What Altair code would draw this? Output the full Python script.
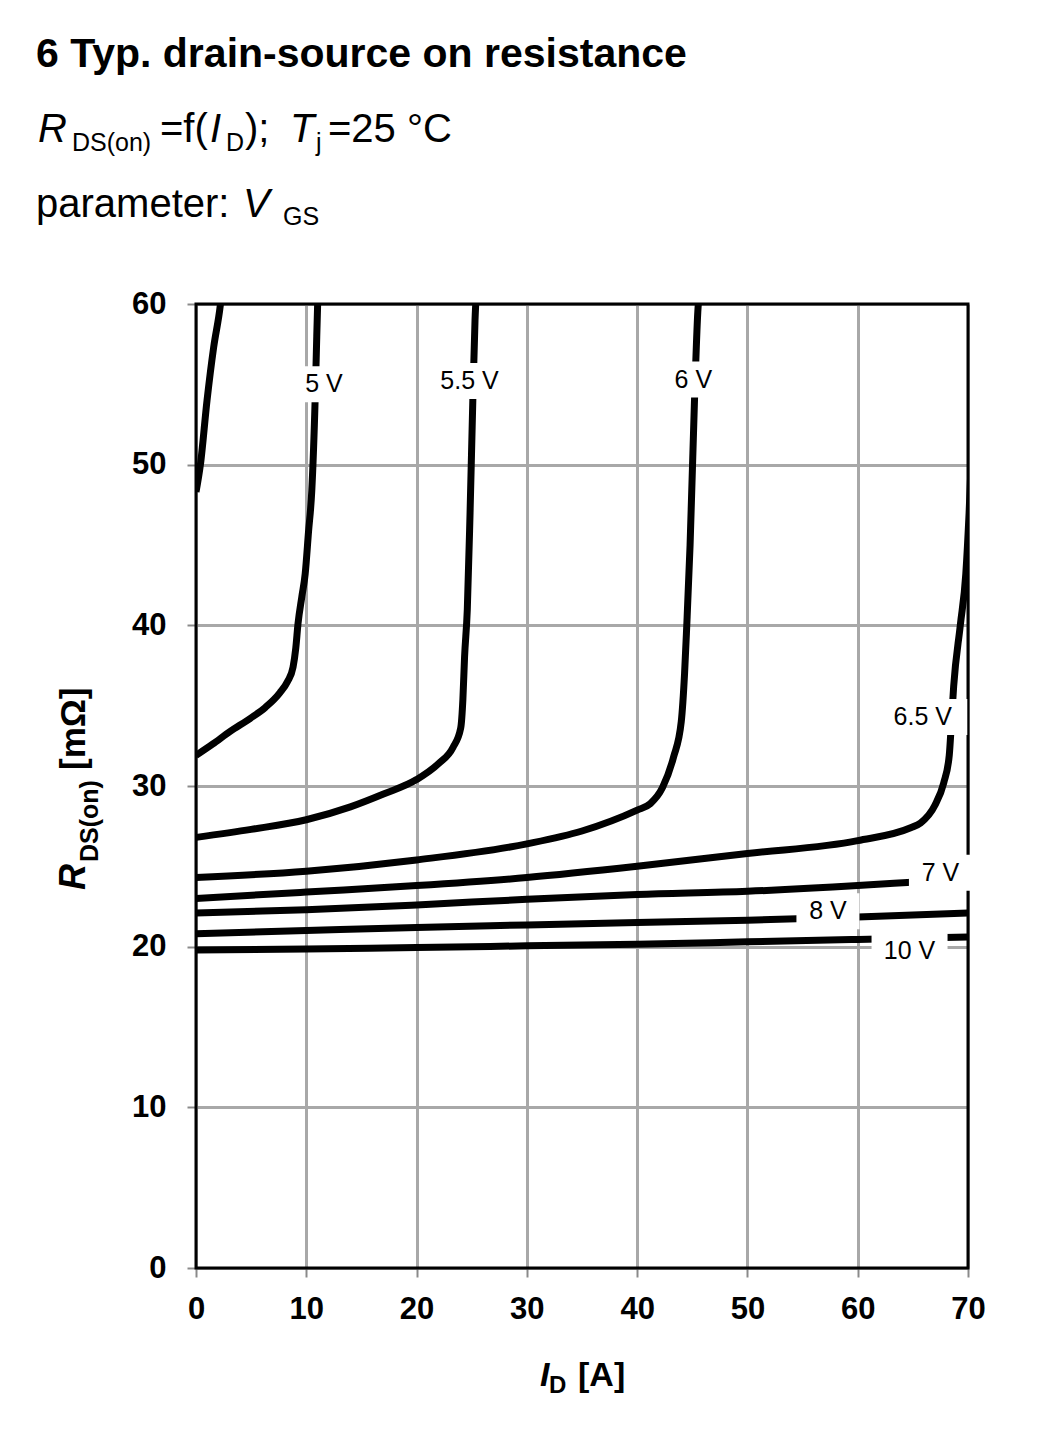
import altair as alt
import pandas as pd

# ---------------- data ----------------
# I_D [A] and R_DS(on) [mOhm] for each V_GS curve
id_c0 = [0.0, 0.4, 1.0, 1.6, 2.2, 2.3]
r_c0 = [48.3, 50.0, 54.0, 57.3, 59.9, 60.5]

id_5v = [0.0, 1.5, 3.1, 4.9, 6.3, 7.6, 8.3, 8.8, 9.05, 9.25, 9.6, 9.9, 10.2, 10.5, 10.8, 10.95, 11.05]
r_5v = [31.9, 32.6, 33.4, 34.2, 34.9, 35.8, 36.5, 37.4, 38.6, 40.1, 41.8, 43.2, 45.8, 48.4, 54.0, 58.0, 60.5]

id_55v = [0.0, 5.0, 10.0, 14.0, 17.0, 20.0, 22.0, 23.3, 24.0, 24.2, 24.35, 24.6, 24.85, 25.1, 25.3, 25.4]
r_55v = [26.8, 27.3, 27.9, 28.7, 29.5, 30.4, 31.4, 32.4, 33.6, 35.4, 38.0, 41.0, 47.0, 54.0, 59.0, 60.5]

id_6v = [0.0, 10.0, 20.0, 30.0, 35.0, 40.0, 41.2, 42.3, 43.3, 44.0, 44.3, 44.5, 44.8, 45.2, 45.5, 45.6]
r_6v = [24.3, 24.7, 25.4, 26.4, 27.2, 28.5, 28.9, 29.9, 31.8, 34.0, 37.0, 40.0, 45.0, 54.0, 59.5, 60.5]

id_65v = [0.0, 10.0, 20.0, 30.0, 40.0, 50.0, 60.0, 64.8, 65.7, 67.0, 67.8, 68.3, 68.5, 68.7, 69.3, 69.8, 70.1, 70.4]
r_65v = [23.0, 23.4, 23.8, 24.3, 25.0, 25.8, 26.6, 27.4, 27.7, 28.8, 30.2, 31.9, 34.0, 36.2, 40.0, 43.2, 47.0, 52.0]

id_7v = [0.0, 10.0, 20.0, 30.0, 40.0, 50.0, 60.0, 64.5, 70.0]
r_7v = [22.1, 22.3, 22.6, 22.95, 23.25, 23.45, 23.8, 24.0, 24.25]

id_8v = [0.0, 10.0, 20.0, 30.0, 40.0, 50.0, 60.0, 70.0]
r_8v = [20.8, 21.0, 21.2, 21.35, 21.5, 21.65, 21.85, 22.1]

id_10v = [0.0, 10.0, 20.0, 30.0, 40.0, 50.0, 60.0, 70.0]
r_10v = [19.8, 19.85, 19.95, 20.05, 20.15, 20.3, 20.45, 20.6]

curve_names = ["c0", "5 V", "5.5 V", "6 V", "6.5 V", "7 V", "8 V", "10 V"]
curve_ids = [id_c0, id_5v, id_55v, id_6v, id_65v, id_7v, id_8v, id_10v]
curve_rs = [r_c0, r_5v, r_55v, r_6v, r_65v, r_7v, r_8v, r_10v]

# curve labels
label_text = ["5 V", "5.5 V", "6 V", "6.5 V", "7 V", "8 V", "10 V"]
label_x = [11.6, 24.8, 45.1, 65.9, 67.5, 57.3, 64.7]
label_y = [55.0, 55.2, 55.3, 34.3, 24.6, 22.2, 19.7]

x_ticks = [0, 10, 20, 30, 40, 50, 60, 70]
y_ticks = [0, 10, 20, 30, 40, 50, 60]

title_1 = "6 Typ. drain-source on resistance"
title_2 = ["R", "DS(on)", "=f(", "I", "D", ");", "T", "j", "=25 °C"]
title_3 = ["parameter: ", "V", "GS"]
x_title = ["I", "D", "[A]"]
y_title = ["R", "DS(on)", "[mΩ]"]

# ---------------- chart ----------------
FONT = "Liberation Sans"
W, H = 772, 964

rows = []
for name, ids, rs in zip(curve_names, curve_ids, curve_rs):
    for i, (a, b) in enumerate(zip(ids, rs)):
        rows.append({"curve": name, "ID": a, "R": b, "k": i})
df = pd.DataFrame(rows)
lab = pd.DataFrame({"t": label_text, "x": label_x, "y": label_y})

xs = alt.Scale(domain=[0, 70], nice=False, zero=False)
ys = alt.Scale(domain=[0, 60], nice=False, zero=False)

common = dict(title=None, grid=True, gridColor="#a8a8a8", gridWidth=3,
              domain=False, ticks=True, tickColor="#8a8a8a", tickSize=9, tickWidth=2,
              labelFont=FONT, labelFontSize=31, labelFontWeight="bold",
              labelColor="black", labelFlush=False, labelOverlap=False)
xax = alt.Axis(values=x_ticks, labelPadding=17, **common)
yax = alt.Axis(values=y_ticks, labelPadding=21, **common)

lines = alt.Chart(df).mark_line(
    color="black", strokeWidth=7, clip=True, interpolate="monotone"
).encode(
    x=alt.X("ID:Q", scale=xs, axis=xax),
    y=alt.Y("R:Q", scale=ys, axis=yax),
    detail="curve:N",
    order="k:Q",
)

border = alt.Chart(alt.Data(values=[{}])).mark_rect(
    filled=False, stroke="black", strokeWidth=3
).encode(
    x=alt.X(datum=0, type="quantitative", scale=xs, axis=xax),
    x2=alt.X2(datum=70),
    y=alt.Y(datum=0, type="quantitative", scale=ys, axis=yax),
    y2=alt.Y2(datum=60),
)

bgs = []
for t in label_text:
    w = 13 * len(t) + 24
    bgs.append(
        alt.Chart(lab).transform_filter(alt.datum.t == t).mark_rect(
            color="white", width=w, height=36
        ).encode(
            x=alt.X("x:Q", scale=xs, axis=xax),
            y=alt.Y("y:Q", scale=ys, axis=yax),
        )
    )

labels = alt.Chart(lab).mark_text(
    font=FONT, fontSize=25, color="black", align="center", baseline="middle"
).encode(
    x=alt.X("x:Q", scale=xs, axis=xax),
    y=alt.Y("y:Q", scale=ys, axis=yax),
    text="t:N",
)


def txt(s, x, y, size, weight="normal", style="normal", angle=0):
    kw = dict(text=s, font=FONT, fontSize=size, fontWeight=weight, fontStyle=style,
              color="black", align="left", baseline="alphabetic")
    if angle:
        kw["angle"] = angle
    return alt.Chart(alt.Data(values=[{}])).mark_text(**kw).encode(
        x=alt.value(x), y=alt.value(y)
    )


texts = [
    txt(title_1, -160, -237, 41, weight="bold"),
    # second line
    txt(title_2[0], -158, -162, 40, style="italic"),
    txt(title_2[1], -124, -153, 25),
    txt(title_2[2], -36, -162, 40),
    txt(title_2[3], 14, -162, 40, style="italic"),
    txt(title_2[4], 30, -153, 25),
    txt(title_2[5], 49, -162, 40),
    txt(title_2[6], 94, -162, 40, style="italic"),
    txt(title_2[7], 120, -153, 25),
    txt(title_2[8], 132, -162, 40),
    # third line
    txt(title_3[0], -160, -87, 40),
    txt(title_3[1], 47, -87, 40, style="italic"),
    txt(title_3[2], 87, -79, 25),
    # x axis title
    txt(x_title[0], 344, 1082, 34, weight="bold", style="italic"),
    txt(x_title[1], 353, 1089, 24, weight="bold"),
    txt(x_title[2], 382, 1082, 34, weight="bold"),
    # y axis title (rotated)
    txt(y_title[0], -111, 586, 36, weight="bold", style="italic", angle=270),
    txt(y_title[1], -98, 558, 25, weight="bold", angle=270),
    txt(y_title[2], -111, 466, 35, weight="bold", angle=270),
]

chart = alt.layer(lines, border, *bgs, labels, *texts).properties(
    width=W, height=H,
    padding={"left": 196, "top": 304, "right": 73, "bottom": 174},
    autosize=alt.AutoSizeParams(type="none"),
    background="white",
).configure_view(stroke=None)

chart.save("out.html", embed_options={"renderer": "svg", "actions": False})
